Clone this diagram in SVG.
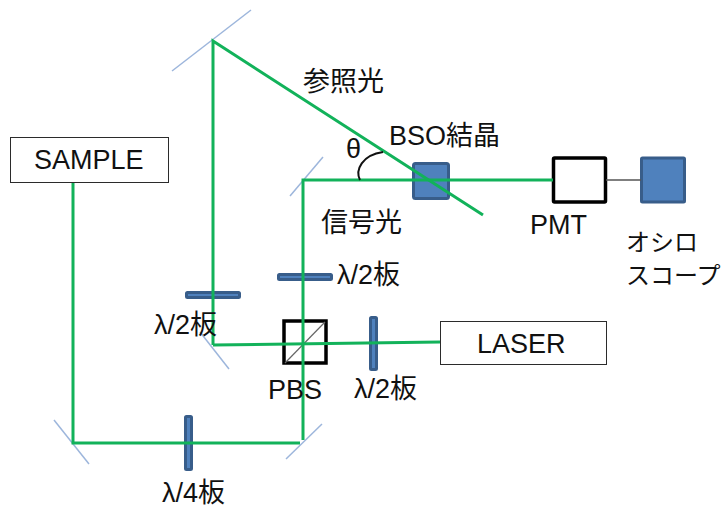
<svg xmlns="http://www.w3.org/2000/svg" width="725" height="507" viewBox="0 0 725 507">
<style>
text{font-family:"Liberation Sans","Noto Sans CJK JP",sans-serif;font-size:27px;fill:#111}
text.s{font-size:24px}
.b{stroke:#2b2b2b;stroke-width:1;fill:#fff}
.g{stroke:#12b25a;stroke-width:3;fill:none}
.m{stroke:#9db6dc;stroke-width:1.5;fill:none}
.p{fill:#4f81bd;stroke:#385d8a;stroke-width:3}
.k{fill:#fff;stroke:#000;stroke-width:3.5}
</style>
<rect width="725" height="507" fill="#fff"/>
<g id="mirrors">
<path class="m" d="M172 71L251 10"/>
<path class="m" d="M290 196L323 157"/>
<path class="m" d="M200 332L229 369"/>
<path class="m" d="M54 420L89 464"/>
<path class="m" d="M286 459L322 424"/>
</g>
<g id="sample"><rect class="b" x="10.500" y="137.500" width="158" height="45"/><text x="34" y="169">SAMPLE</text></g>
<g id="laser"><rect class="b" x="440.500" y="321.500" width="166" height="43"/><text x="477" y="353">LASER</text></g>
<g id="bso"><rect class="p" x="413.500" y="163.500" width="35" height="35" rx="2"/></g>
<g id="pmt"><rect class="k" x="553.500" y="158" width="52" height="44" rx="1"/></g>
<g id="scope"><rect class="p" x="641.500" y="158" width="43" height="44" rx="1"/></g>
<g id="pbs"><rect x="284" y="321" width="42" height="42" fill="#fff" stroke="#000" stroke-width="3.500"/><path d="M285 363L325 322" stroke="#666" stroke-width="1.2"/></g>
<g id="plates">
<rect class="p" x="186.500" y="292.500" width="53" height="5" rx="1"/>
<rect class="p" x="278.500" y="274.500" width="53" height="5" rx="1"/>
<rect class="p" x="370.500" y="317.500" width="6" height="52" rx="1"/>
<rect class="p" x="185.500" y="416.500" width="6" height="53" rx="1"/>
</g>
<g id="connectors">
<path class="g" d="M73 183V443H300"/>
<path class="g" d="M303 440V180H553"/>
<path class="g" d="M213 345V41L483 215"/>
<path class="g" d="M213 345L440 342"/>
<path d="M606 180H641" stroke="#555" stroke-width="1.500" fill="none"/>
<path d="M360 180C355 170 362 155 383 152" stroke="#111" stroke-width="2" fill="none"/>
</g>
<g id="labels">
<text x="303" y="91">参照光</text>
<text x="389" y="145">BSO結晶</text>
<text x="346" y="158">θ</text>
<text x="321" y="232">信号光</text>
<text x="337" y="284">λ/2板</text>
<text x="154" y="334">λ/2板</text>
<text x="268" y="399">PBS</text>
<text x="354" y="398">λ/2板</text>
<text x="162" y="502">λ/4板</text>
<text x="530" y="234">PMT</text>
<text class="s" x="626" y="251">オシロ</text>
<text class="s" x="626" y="284">スコープ</text>
</g>
</svg>
